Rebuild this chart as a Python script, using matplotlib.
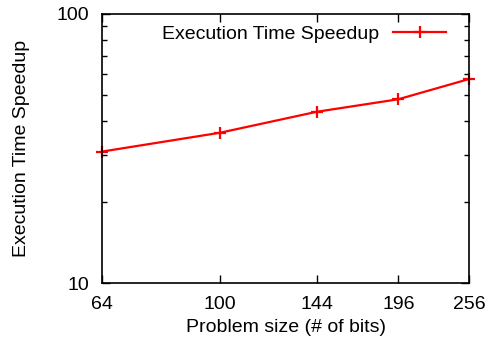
import matplotlib.pyplot as plt
from matplotlib.ticker import FixedLocator, NullFormatter, NullLocator

# rozmiary problemu i przyspieszenie
bits = [64, 100, 144, 196, 256]
speedup = [30.8, 36.2, 43.3, 48.2, 57.3]
x_ticks = [64, 100, 144, 196, 256]

plt.rcParams['font.family'] = ['Liberation Sans', 'DejaVu Sans']
plt.rcParams['font.size'] = 14

fig = plt.figure(figsize=(4.94, 3.45), dpi=100)
ax = fig.add_axes([102 / 494, 1 - 283 / 345, 367 / 494, 269 / 345])

ax.plot(bits, speedup, color='red', lw=1.6, marker='+', ms=8, mew=1.6,
        label='Execution Time Speedup', clip_on=False)

ax.set_xscale('log')
ax.set_yscale('log')
ax.set_xlim(64, 256)
ax.set_ylim(10, 100)

ax.xaxis.set_major_locator(FixedLocator(x_ticks))
ax.xaxis.set_major_formatter(plt.FixedFormatter([str(v) for v in x_ticks]))
ax.xaxis.set_minor_locator(NullLocator())
ax.yaxis.set_major_locator(FixedLocator([10, 100]))
ax.yaxis.set_major_formatter(plt.FixedFormatter(['10', '100']))
ax.yaxis.set_minor_locator(FixedLocator(list(range(20, 100, 10))))
ax.yaxis.set_minor_formatter(NullFormatter())

ax.tick_params(which='both', direction='in', top=True, right=True, width=1)
ax.tick_params(which='major', length=6, pad=9.5)
ax.tick_params(which='minor', length=3.5)
for s in ax.spines.values():
    s.set_linewidth(1.2)

ax.set_xlabel('Problem size (# of bits)', va='center')
ax.set_ylabel('Execution Time Speedup', va='center')
ax.xaxis.set_label_coords(0.5, -0.164)
ax.yaxis.set_label_coords(-0.218, 0.5)

leg = ax.legend(loc='center right', frameon=False, markerfirst=False,
                handlelength=2.7, borderaxespad=0, handletextpad=0.75,
                bbox_to_anchor=(0.958, 0.926))

fig.savefig('out.png', dpi=100)
